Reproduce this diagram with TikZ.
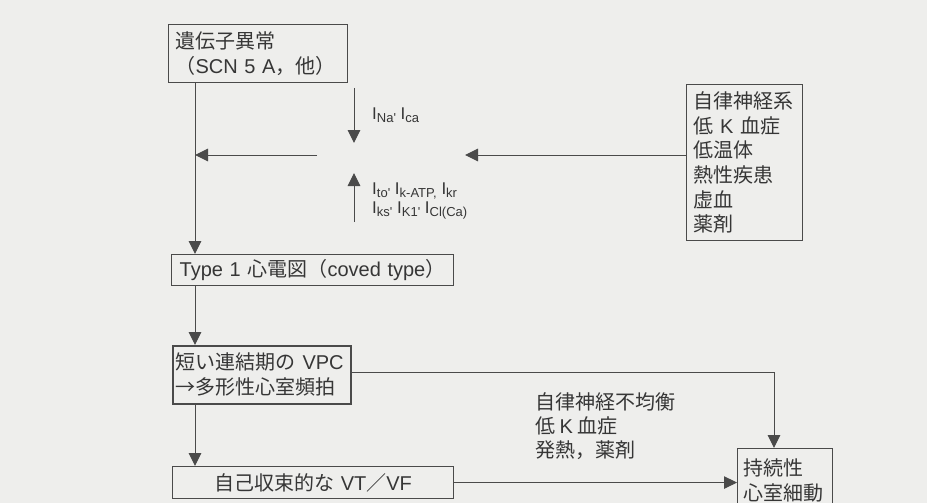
\documentclass[tikz,border=0pt]{standalone}
\usepackage{fontspec}
\setmainfont{Noto Sans CJK JP}
\newfontfamily\lat{Liberation Sans}
\usetikzlibrary{arrows.meta}
\definecolor{ink}{HTML}{363636}
\definecolor{wire}{HTML}{4A4A4A}
\definecolor{paper}{HTML}{EEEEEC}
\newcommand\isub[1]{\raisebox{-3.5pt}{\fontsize{13}{13}\selectfont #1}}
\begin{document}
\begin{tikzpicture}[x=1pt,y=-1pt,
  box/.style={draw=wire, line width=1.1pt, text=ink, inner ysep=0pt, anchor=north west,
              font=\fontsize{20}{24.6}\selectfont},
  lbl/.style={text=ink, inner sep=0pt, font=\fontsize{20}{24.2}\selectfont},
  ilbl/.style={text=ink, inner sep=0pt, font=\lat\fontsize{17}{19}\selectfont},
  arr/.style={draw=wire, line width=1pt, -{Triangle[length=13pt,width=12.5pt]}},
  wireline/.style={draw=wire, line width=1pt}]
\fill[paper] (0,0) rectangle (927,503);
\useasboundingbox (0,0) rectangle (927,503);

\node[box, minimum width=179pt, minimum height=58pt, inner xsep=7pt, text width=165pt, align=left]
  (gene) at (168,24) {遺伝子異常\\（{\lat SCN 5 A}，他）};

\node[box, minimum width=116pt, minimum height=156pt, inner xsep=7pt, text width=102pt, align=left]
  (factors) at (686,84) {自律神経系\\低 {\lat K} 血症\\低温体\\熱性疾患\\虚血\\薬剤};

\node[box, minimum width=282pt, minimum height=31pt, inner xsep=7pt, text width=268pt, align=center]
  (ecg) at (171,254) {{\lat Type 1} 心電図（{\lat coved type}）};

\node[box, line width=1.8pt, minimum width=178pt, minimum height=58pt, inner xsep=3pt, text width=172pt, align=left,
      font=\fontsize{20}{25}\selectfont]
  (vpc) at (172,345) {短い連結期の {\lat VPC}\\→多形性心室頻拍};

\node[box, minimum width=281pt, minimum height=32pt, inner xsep=7pt, text width=267pt, align=center]
  (vt) at (172,466) {自己収束的な {\lat VT}／{\lat VF}};

\node[box, minimum width=95pt, minimum height=64pt, inner xsep=6pt, text width=83pt, align=left]
  (sust) at (737,448) {持続性\\心室細動};

\node[lbl, anchor=west, align=left] (cond) at (535,426) {自律神経不均衡\\低 {\lat K} 血症\\発熱，薬剤};

\node[ilbl, anchor=west] (inaca) at (372,115) {I\isub{Na'} I\isub{ca}};
\node[ilbl, anchor=west, align=left] (ik) at (372,201)
  {I\isub{to'} I\isub{k-ATP,} I\isub{kr}\\I\isub{ks'} I\isub{K1'} I\isub{Cl(Ca)}};

\coordinate (ljoin) at (195,155);
\coordinate (lstart) at (317,155);
\coordinate (rtip) at (465,155);
\coordinate (dtop) at (354,88);
\coordinate (dtip) at (354,143);
\coordinate (ubot) at (354,222);
\coordinate (utip) at (354,173);

\draw[arr] ([xshift=27pt]gene.south west) -- ([xshift=24pt]ecg.north west);
\draw[arr] (lstart) -- (ljoin);
\draw[arr] (factors.west |- ljoin) -- (rtip);
\draw[arr] (dtop) -- (dtip);
\draw[arr] (ubot) -- (utip);
\draw[arr] ([xshift=24pt]ecg.south west) -- ([xshift=23pt]vpc.north west);
\draw[arr] ([xshift=23pt]vpc.south west) -- ([xshift=23pt]vt.north west);
\draw[arr] ([yshift=2pt]vpc.east) -| ([xshift=37pt]sust.north west);
\draw[arr] (vt.east) -- (vt.east -| sust.west);
\end{tikzpicture}
\end{document}
